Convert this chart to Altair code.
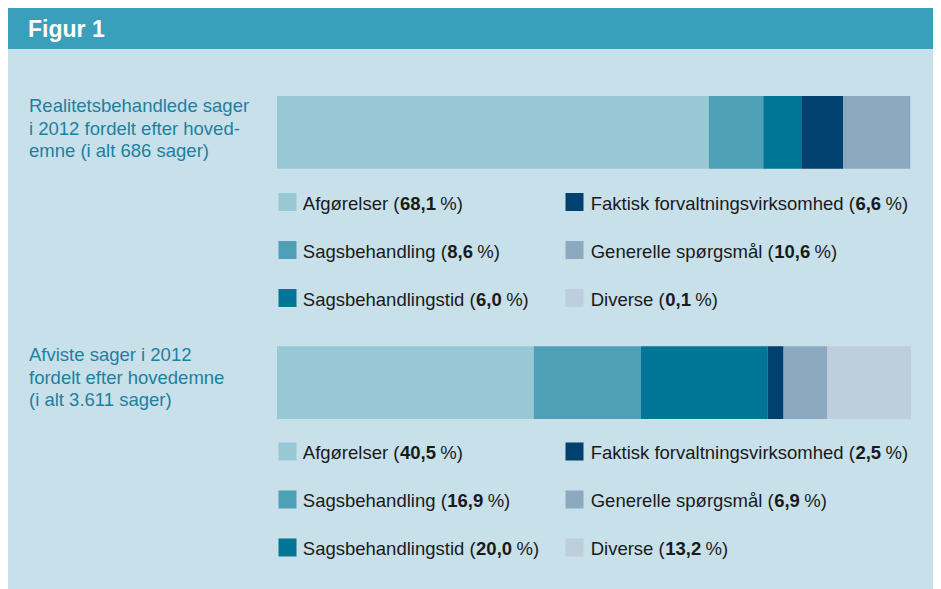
import altair as alt
import pandas as pd

# ---------------- data ----------------
categories = ["Afgørelser", "Sagsbehandling", "Sagsbehandlingstid",
              "Faktisk forvaltningsvirksomhed", "Generelle spørgsmål", "Diverse"]
colors = ["#98C8D4", "#4DA0B6", "#007596", "#00416F", "#8BAAC0", "#BECEDC"]
groups = ["Realitetsbehandlede", "Afviste"]
values_realitet = [68.1, 8.6, 6.0, 6.6, 10.6, 0.1]
values_afviste = [40.5, 16.9, 20.0, 2.5, 6.9, 13.2]
titles = ["Realitetsbehandlede sager\ni 2012 fordelt efter hoved-\nemne (i alt 686 sager)",
          "Afviste sager i 2012\nfordelt efter hovedemne\n(i alt 3.611 sager)"]
header = "Figur 1"

# ---------------- layout ----------------
W, H = 925, 581
FONT = "Liberation Sans"
FS = 18.5
BG = "#C8E0EA"
HEAD = "#3A9FBA"
TEAL_TXT = "#1E7FA0"

# Arial / Liberation Sans advance widths (per 1000 em)
REG = {"A": 667, "D": 722, "F": 611, "G": 778, "S": 667, "a": 556, "b": 556, "c": 500,
       "d": 556, "e": 556, "f": 278, "g": 556, "h": 556, "i": 222, "k": 500, "l": 222,
       "m": 833, "n": 556, "o": 556, "p": 556, "r": 333, "s": 500, "t": 278, "u": 556,
       "v": 500, "ø": 611, "å": 556, " ": 278, "(": 333, ")": 333, "%": 889}
BOLD = {",": 278}


def width(s, table, default=556):
    return sum(table.get(c, default) for c in s) * FS / 1000.0


bar_rows = []
for g, vals in zip(groups, [values_realitet, values_afviste]):
    for i, (c, v) in enumerate(zip(categories, vals)):
        bar_rows.append({"group": g, "cat": c, "value": v, "idx": i})
bars_df = pd.DataFrame(bar_rows)

sq_x = [279.5, 566.5]
txt_x = [294.8, 582.7]
leg_rows = []
for gi, vals in enumerate([values_realitet, values_afviste]):
    for i, (c, v) in enumerate(zip(categories, vals)):
        col, row = i // 3, i % 3
        yc = 194 + 249.5 * gi + 48 * row
        prefix = c + " ("
        num = f"{v:.1f}".replace(".", ",")
        suffix = "%)"
        x0 = txt_x[col]
        x1 = x0 + width(prefix, REG) + 0.5
        x2 = x1 + width(num, BOLD) + width(" ", REG) * 0.85
        leg_rows.append({"cat": c, "sx": sq_x[col], "y": yc, "ty": yc + 1.5,
                         "prefix": prefix, "num": num, "suffix": suffix,
                         "x0": x0, "x1": x1, "x2": x2})
leg_df = pd.DataFrame(leg_rows)

title_df = pd.DataFrame({"t": titles, "x": [21, 21], "y": [104, 353]})

color_scale = alt.Scale(domain=categories, range=colors)

header_rect = alt.Chart(pd.DataFrame({"a": [0]})).mark_rect(color=HEAD).encode(
    x=alt.value(0), x2=alt.value(W), y=alt.value(0), y2=alt.value(41))
header_text = alt.Chart(pd.DataFrame({"t": [header]})).mark_text(
    font=FONT, fontSize=23, fontWeight="bold", color="white", align="left",
    baseline="alphabetic").encode(x=alt.value(20), y=alt.value(29), text="t:N")

bars = alt.Chart(bars_df).mark_bar().encode(
    x=alt.X("value:Q", stack="zero", scale=alt.Scale(domain=[0, 100], range=[269, 903]), axis=None),
    y=alt.Y("group:N", scale=alt.Scale(domain=groups, range=[88, 411], paddingInner=0.709, paddingOuter=0), axis=None),
    color=alt.Color("cat:N", scale=color_scale, legend=None),
    order=alt.Order("idx:Q"),
)

titles_layer = alt.Chart(title_df).mark_text(
    font=FONT, fontSize=FS, color=TEAL_TXT, align="left", baseline="alphabetic",
    lineBreak="\n", lineHeight=22.5).encode(
    x=alt.X("x:Q", scale=None), y=alt.Y("y:Q", scale=None), text="t:N")

squares = alt.Chart(leg_df).mark_square(size=324, opacity=1, filled=True).encode(
    x=alt.X("sx:Q", scale=None), y=alt.Y("y:Q", scale=None),
    color=alt.Color("cat:N", scale=color_scale, legend=None))

lt = dict(font=FONT, fontSize=FS, color="#1A1A1A", align="left", baseline="middle")
t_prefix = alt.Chart(leg_df).mark_text(**lt).encode(
    x=alt.X("x0:Q", scale=None), y=alt.Y("ty:Q", scale=None), text="prefix:N")
t_num = alt.Chart(leg_df).mark_text(fontWeight="bold", **lt).encode(
    x=alt.X("x1:Q", scale=None), y=alt.Y("ty:Q", scale=None), text="num:N")
t_suffix = alt.Chart(leg_df).mark_text(**lt).encode(
    x=alt.X("x2:Q", scale=None), y=alt.Y("ty:Q", scale=None), text="suffix:N")

chart = alt.layer(
    header_rect, header_text, bars, titles_layer, squares, t_prefix, t_num, t_suffix
).resolve_scale(x="independent", y="independent").properties(
    width=W, height=H, background=BG, padding=0,
    autosize=alt.AutoSizeParams(type="none"),
).configure_view(strokeWidth=0)

chart.save("out.html", embed_options={"renderer": "svg", "actions": False})
